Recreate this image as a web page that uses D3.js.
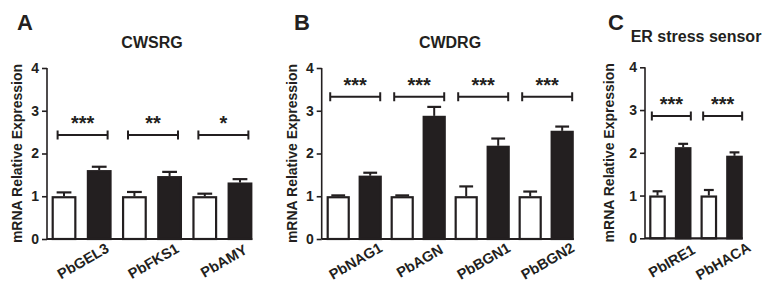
<!DOCTYPE html>
<html><head><meta charset="utf-8">
<script src="https://cdn.jsdelivr.net/npm/d3@7"></script>
<style>
html,body{margin:0;padding:0;background:#fff;}
text{font-family:"Liberation Sans",Arial,sans-serif;font-weight:bold;fill:#231f20;}
</style></head>
<body>
<svg id="chart" width="764" height="287"></svg>
<script>
// ---- data ----
const yTicks = [0, 1, 2, 3, 4];

const catsA = ["PbGEL3", "PbFKS1", "PbAMY"];
const ctrlA = [1.0, 1.0, 1.0];
const ctrlErrA = [0.09, 0.10, 0.06];
const treatA = [1.61, 1.47, 1.32];
const treatErrA = [0.08, 0.10, 0.08];
const sigA = ["***", "**", "*"];
const sigLevelA = 2.43;

const catsB = ["PbNAG1", "PbAGN", "PbBGN1", "PbBGN2"];
const ctrlB = [1.0, 1.0, 1.0, 1.0];
const ctrlErrB = [0.02, 0.02, 0.23, 0.11];
const treatB = [1.48, 2.88, 2.18, 2.53];
const treatErrB = [0.07, 0.21, 0.17, 0.10];
const sigB = ["***", "***", "***", "***"];
const sigLevelB = 3.33;

const catsC = ["PbIRE1", "PbHACA"];
const ctrlC = [1.0, 1.0];
const ctrlErrC = [0.10, 0.13];
const treatC = [2.13, 1.93];
const treatErrC = [0.08, 0.08];
const sigC = ["***", "***"];
const sigLevelC = 2.86;

const yLabel = "mRNA Relative Expression";

// ---- layout ----
const panels = [
  {letter: "A", title: "CWSRG", cats: catsA, ctrl: ctrlA, ctrlErr: ctrlErrA, treat: treatA, treatErr: treatErrA, sig: sigA, sigLevel: sigLevelA,
   axisX: 47, x0: 51.7, x1: 252.3, pad: 0.3, yTop: 68, yBot: 239, letterX: 17, titleX: 152, titleY: 48, ylabX: 22, bracketHalf: 25},
  {letter: "B", title: "CWDRG", cats: catsB, ctrl: ctrlB, ctrlErr: ctrlErrB, treat: treatB, treatErr: treatErrB, sig: sigB, sigLevel: sigLevelB,
   axisX: 321.7, x0: 326.7, x1: 573.7, pad: 0.28, yTop: 68, yBot: 239, letterX: 294, titleX: 450, titleY: 48, ylabX: 297, bracketHalf: 25},
  {letter: "C", title: "ER stress sensor", cats: catsC, ctrl: ctrlC, ctrlErr: ctrlErrC, treat: treatC, treatErr: treatErrC, sig: sigC, sigLevel: sigLevelC,
   axisX: 645, x0: 649.3, x1: 742.7, pad: 0.36, yTop: 67.3, yBot: 238.3, letterX: 608, titleX: 696, titleY: 42, ylabX: 614, bracketHalf: 19.5}
];

const svg = d3.select("#chart");
const ink = "#231f20";

panels.forEach(p => {
  const g = svg.append("g");
  const keys = [];
  p.cats.forEach(c => { keys.push(c + "|c"); keys.push(c + "|t"); });
  const x = d3.scaleBand().domain(keys).range([p.x0, p.x1]).paddingInner(p.pad).paddingOuter(0);
  const y = d3.scaleLinear().domain([0, 4]).range([p.yBot, p.yTop]);
  const bw = x.bandwidth();

  const bars = [];
  p.cats.forEach((c, i) => {
    bars.push({key: c + "|c", v: p.ctrl[i], e: p.ctrlErr[i], fill: "#fff"});
    bars.push({key: c + "|t", v: p.treat[i], e: p.treatErr[i], fill: ink});
  });

  // error bars (upper only)
  const eb = g.selectAll("g.eb").data(bars).join("g");
  eb.append("line")
    .attr("x1", d => x(d.key) + bw / 2).attr("x2", d => x(d.key) + bw / 2)
    .attr("y1", d => y(d.v)).attr("y2", d => y(d.v + d.e))
    .attr("stroke", ink).attr("stroke-width", 2);
  eb.append("line")
    .attr("x1", d => x(d.key) + bw * 0.2).attr("x2", d => x(d.key) + bw * 0.8)
    .attr("y1", d => y(d.v + d.e)).attr("y2", d => y(d.v + d.e))
    .attr("stroke", ink).attr("stroke-width", 2.2);

  // bars
  g.selectAll("rect.bar").data(bars).join("rect")
    .attr("x", d => x(d.key) + 1).attr("width", bw - 2)
    .attr("y", d => y(d.v) + 1).attr("height", d => y(0) - y(d.v) - 1)
    .attr("fill", d => d.fill).attr("stroke", ink).attr("stroke-width", 2.2);

  // y axis
  const yAxis = d3.axisLeft(y).tickValues(yTicks).tickFormat(d3.format("d")).tickSize(5).tickPadding(3);
  const ya = g.append("g").attr("transform", `translate(${p.axisX},0)`).call(yAxis);
  ya.select(".domain").attr("stroke", ink).attr("stroke-width", 1.6).attr("d", `M0,${p.yTop}V${p.yBot}`);
  ya.selectAll(".tick line").attr("stroke", ink).attr("stroke-width", 1.6);
  ya.selectAll(".tick text").attr("font-size", 14).attr("font-family", null).attr("fill", ink);

  // x axis baseline
  g.append("line").attr("x1", p.axisX).attr("x2", p.x1).attr("y1", y(0)).attr("y2", y(0))
    .attr("stroke", ink).attr("stroke-width", 2.2);

  // x labels
  p.cats.forEach(c => {
    const cx = (x(c + "|c") + x(c + "|t") + bw) / 2 + 2;
    g.append("text").attr("transform", `translate(${cx},262) rotate(-30)`)
      .attr("text-anchor", "middle").attr("dominant-baseline", "middle")
      .attr("font-size", 14.5).text(c);
  });

  // significance brackets
  p.cats.forEach((c, i) => {
    const cx = (x(c + "|c") + x(c + "|t") + bw) / 2 + 1;
    const by = y(p.sigLevel);
    const l = cx - p.bracketHalf, r = cx + p.bracketHalf;
    g.append("path").attr("d", `M${l},${by}H${r}M${l},${by - 4.5}V${by + 4.5}M${r},${by - 4.5}V${by + 4.5}`)
      .attr("stroke", ink).attr("stroke-width", 2).attr("fill", "none");
    g.append("text").attr("x", cx).attr("y", by - 5).attr("text-anchor", "middle")
      .attr("font-size", 20).text(p.sig[i]);
  });

  // y label
  g.append("text").attr("transform", `translate(${p.ylabX},${(p.yTop + p.yBot) / 2}) rotate(-90)`)
    .attr("text-anchor", "middle").attr("font-size", 14).text(yLabel);

  // title
  g.append("text").attr("x", p.titleX).attr("y", p.titleY).attr("text-anchor", "middle")
    .attr("font-size", 16).text(p.title);

  // panel letter
  g.append("text").attr("x", p.letterX).attr("y", 30).attr("font-size", 22).text(p.letter);
});
</script>
</body></html>
